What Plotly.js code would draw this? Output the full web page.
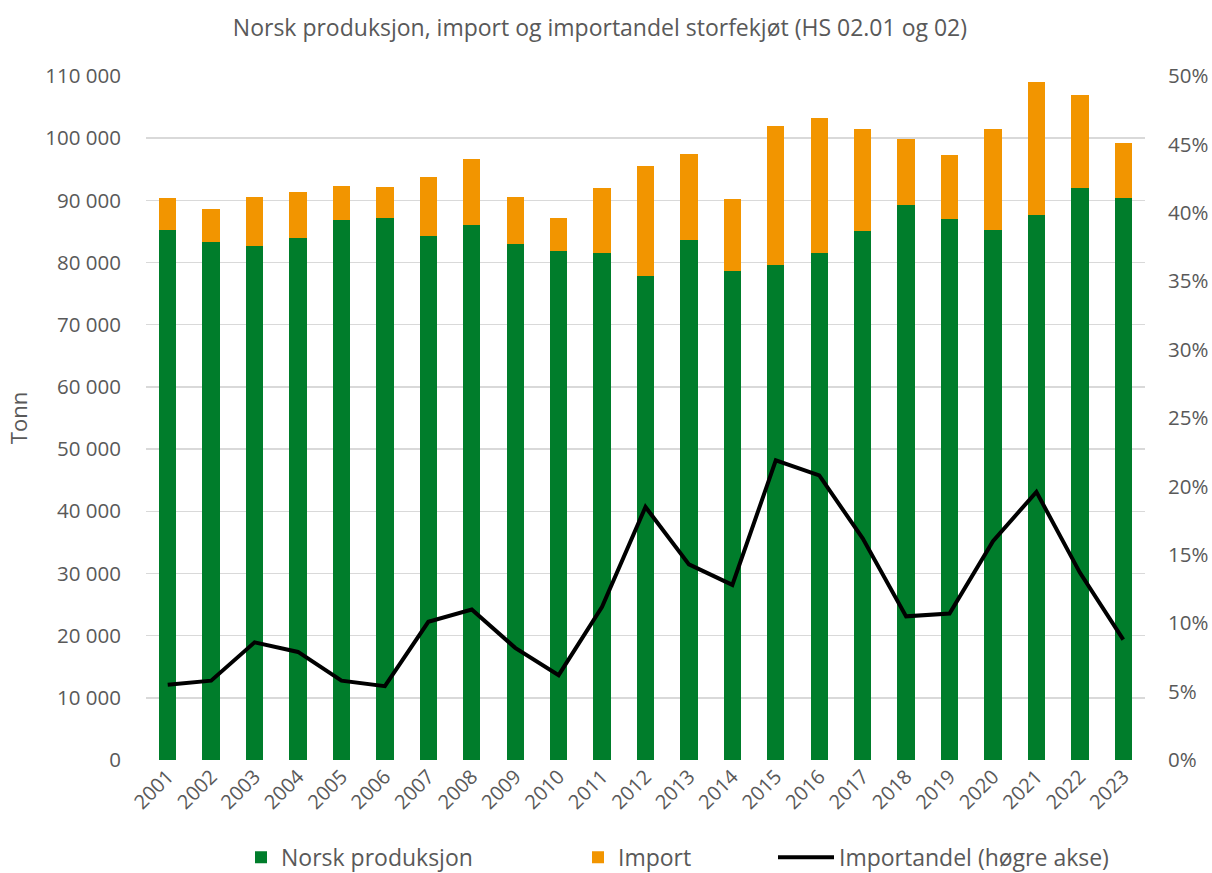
<!DOCTYPE html>
<html>
<head>
<meta charset="utf-8">
<script src="https://cdn.plot.ly/plotly-3.0.1.min.js"></script>
<style>html,body{margin:0;padding:0;background:#fff;}#chart{width:1212px;height:873px;}</style>
</head>
<body>
<div id="chart"></div>
<script>
const years = ["2001","2002","2003","2004","2005","2006","2007","2008","2009","2010","2011","2012","2013","2014","2015","2016","2017","2018","2019","2020","2021","2022","2023"];
const norskProduksjon = [85300,83300,82700,84000,86900,87200,84200,86100,83000,81800,81600,77900,83600,78700,79600,81600,85100,89300,87000,85200,87700,92000,90400];
const importTonn = [5100,5300,7800,7300,5400,4900,9500,10600,7500,5400,10400,17700,13900,11500,22400,21600,16300,10500,10300,16300,21400,14900,8800];
const importandel = [5.5,5.8,8.6,7.9,5.8,5.4,10.1,11.0,8.2,6.2,11.2,18.5,14.3,12.8,21.9,20.8,16.2,10.5,10.7,16.0,19.6,13.7,8.8];
const leftTicks = [0,10000,20000,30000,40000,50000,60000,70000,80000,90000,100000,110000];
const leftTickText = ["0","10 000","20 000","30 000","40 000","50 000","60 000","70 000","80 000","90 000","100 000","110 000"];
const rightTicks = [0,5,10,15,20,25,30,35,40,45,50];
const rightTickText = ["0%","5%","10%","15%","20%","25%","30%","35%","40%","45%","50%"];

const FONT = "'Open Sans', sans-serif";
const GREY = "#595959";

const traces = [
  {type:"bar", name:"Norsk produksjon", x:years, y:norskProduksjon, marker:{color:"#007D2B"}, hoverinfo:"skip", legend:"legend"},
  {type:"bar", name:"Import", x:years, y:importTonn, marker:{color:"#F29500"}, hoverinfo:"skip", legend:"legend2"},
  {type:"scatter", mode:"lines", name:"Importandel (høgre akse)", x:years, y:importandel, yaxis:"y2",
   line:{color:"#000000", width:4}, hoverinfo:"skip", legend:"legend3"}
];

const legendBase = {orientation:"h", xref:"container", yref:"container", y:0.018, yanchor:"middle", xanchor:"left",
                    font:{size:23, color:GREY, family:FONT}, bgcolor:"rgba(0,0,0,0)"};

const layout = {
  width:1212, height:873,
  autosize:false,
  margin:{l:146, r:67, t:76, b:113, autoexpand:false},
  paper_bgcolor:"#ffffff", plot_bgcolor:"#ffffff",
  font:{family:FONT, color:GREY, size:20},
  barmode:"stack", bargap:0.6,
  showlegend:true,
  title:{text:"Norsk produksjon, import og importandel storfekjøt (HS 02.01 og 02)",
         font:{family:FONT, size:23, color:GREY}, x:0.495, xref:"container", xanchor:"center", y:0.968, yref:"container", yanchor:"middle"},
  xaxis:{type:"category", tickangle:-45, tickfont:{size:20, color:GREY}, showgrid:false, showline:false, ticks:"", zeroline:false, automargin:false},
  yaxis:{range:[0,110000], tickmode:"array", tickvals:leftTicks, ticktext:leftTickText, showgrid:true, gridcolor:"#d9d9d9", gridwidth:1.5,
         zeroline:false, showline:false, ticks:"", ticklabelstandoff:24, tickfont:{size:20.5, color:GREY}, automargin:false,
         title:{text:"Tonn", font:{size:22, color:GREY}, standoff:11}},
  yaxis2:{range:[0,50], tickmode:"array", tickvals:rightTicks, ticktext:rightTickText, overlaying:"y", side:"right", showgrid:false,
          zeroline:false, showline:false, ticks:"", ticklabelstandoff:22, tickfont:{size:20.5, color:GREY}, automargin:false},
  legend:Object.assign({}, legendBase, {x:241/1212, itemwidth:30}),
  legend2:Object.assign({}, legendBase, {x:578/1212, itemwidth:30}),
  legend3:Object.assign({}, legendBase, {x:773/1212, itemwidth:56})
};

Plotly.newPlot("chart", traces, layout, {displayModeBar:false, staticPlot:true});
</script>
</body>
</html>
